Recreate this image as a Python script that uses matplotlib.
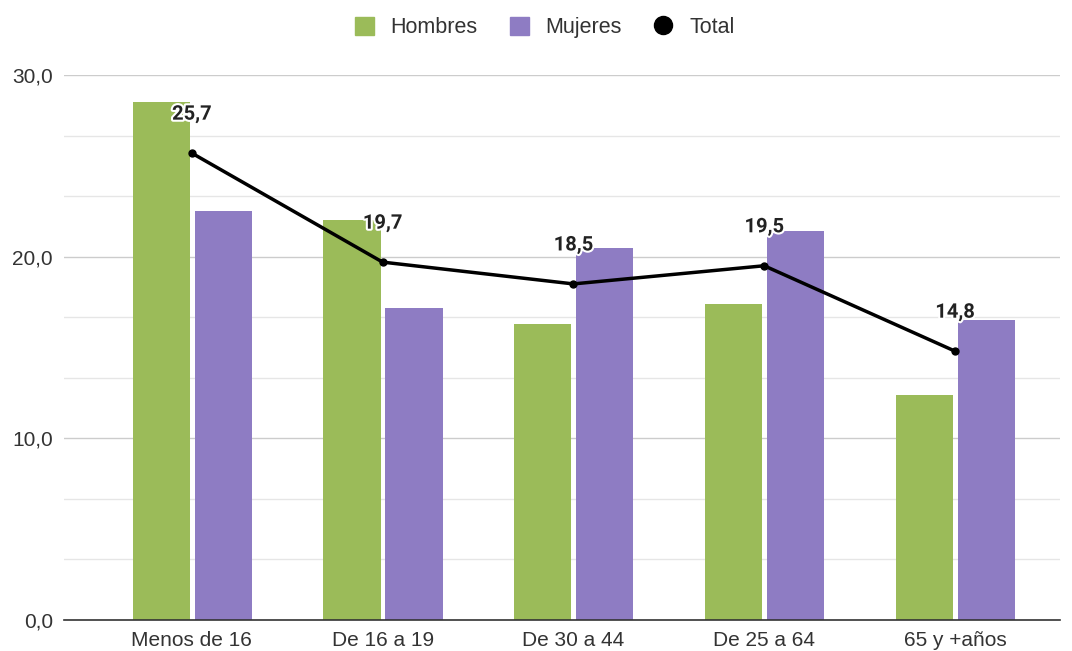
import matplotlib
matplotlib.use("Agg")
import matplotlib.pyplot as plt
import matplotlib.patheffects as pe
import numpy as np
from matplotlib.ticker import MultipleLocator, FuncFormatter
from matplotlib.lines import Line2D
from matplotlib.patches import Patch

plt.rcParams['font.family'] = ['Liberation Sans', 'DejaVu Sans']

categorias = ["Menos de 16", "De 16 a 19", "De 30 a 44", "De 25 a 64", "65 y +años"]
hombres = [28.5, 22.0, 16.3, 17.4, 12.4]
mujeres = [22.5, 17.2, 20.5, 21.4, 16.5]
total = [25.7, 19.7, 18.5, 19.5, 14.8]

verde = "#9bbb59"
morado = "#8e7cc3"

fig = plt.figure(figsize=(10.72, 6.51), dpi=100)
ax = fig.add_axes([0.0597, 0.0476, 0.929, 0.8372])

x = np.arange(len(categorias))
w = 0.30
ax.bar(x - 0.16, hombres, w, color=verde, label="Hombres", zorder=2)
ax.bar(x + 0.165, mujeres, w, color=morado, label="Mujeres", zorder=2)
ax.plot(x, total, color="black", lw=2.5, marker="o", ms=5, label="Total", zorder=3)

# etiquetas del total
for xi, v in zip(x, total):
    ax.annotate(f"{v:.1f}".replace(".", ","), (xi, v), xytext=(0, 28),
                textcoords="offset points", ha="center", va="center",
                fontsize=14.5, fontweight="bold", color="#222222", zorder=4,
                family=["Roboto", "DejaVu Sans"],
                path_effects=[pe.withStroke(linewidth=3, foreground="white")])

ax.set_ylim(0, 30)
ax.set_xlim(-0.67, 4.55)
ax.yaxis.set_major_locator(MultipleLocator(10))
ax.yaxis.set_minor_locator(MultipleLocator(10 / 3))
ax.yaxis.set_major_formatter(FuncFormatter(lambda v, p: f"{v:.1f}".replace(".", ",")))
ax.grid(axis="y", which="major", color="#cccccc", lw=1, zorder=0)
ax.grid(axis="y", which="minor", color="#e6e6e6", lw=1, zorder=0)
ax.set_xticks(x)
ax.set_xticklabels(categorias)
ax.tick_params(axis="both", which="both", length=0, labelsize=15, labelcolor="#333333")
ax.tick_params(axis="y", pad=8)
ax.tick_params(axis="x", pad=8)
for s in ["top", "right", "left"]:
    ax.spines[s].set_visible(False)
ax.spines["bottom"].set_color("#333333")
ax.spines["bottom"].set_linewidth(1.2)

handles = [Patch(color=verde), Patch(color=morado),
           Line2D([], [], color="black", marker="o", ls="none", ms=13)]
fig.legend(handles, ["Hombres", "Mujeres", "Total"], loc="center",
           bbox_to_anchor=(0.508, 0.958), ncol=3, frameon=False,
           fontsize=15.5, handlelength=0.9, handleheight=0.9,
           columnspacing=1.5, handletextpad=0.75, labelcolor="#333333")

fig.savefig("out.png", dpi=100)
